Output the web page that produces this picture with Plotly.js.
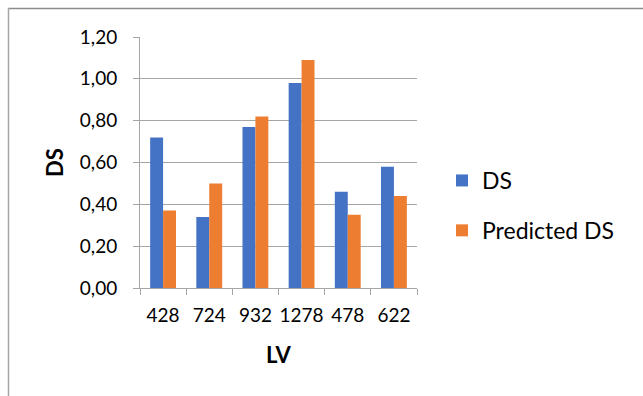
<!DOCTYPE html>
<html>
<head>
<meta charset="utf-8">
<script src="https://cdn.plot.ly/plotly-3.0.1.min.js"></script>
<style>
  html, body { margin: 0; padding: 0; background: #ffffff; }
  #chart { width: 643px; height: 396px; }
</style>
</head>
<body>
<div id="chart"></div>
<script>
// LV categories and the measured / predicted DS values
const lvLabels = ['428', '724', '932', '1278', '478', '622'];
const dsValues = [0.72, 0.34, 0.77, 0.98, 0.46, 0.58];
const predictedValues = [0.37, 0.50, 0.82, 1.09, 0.35, 0.44];
const yTicks = [0, 0.2, 0.4, 0.6, 0.8, 1.0, 1.2];

const FONT = 'Lato, "Open Sans", sans-serif';
const GRID = '#a6a6a6';

const traces = [
  {
    type: 'bar', name: 'DS', x: lvLabels, y: dsValues,
    marker: { color: '#4472c4' }, legendgroup: 'a'
  },
  {
    type: 'bar', name: 'Predicted DS', x: lvLabels, y: predictedValues,
    marker: { color: '#ed7d31' }, legendgroup: 'b'
  }
];

// plot area in pixels: left 140, right 417, top 37, bottom 288
const W = 643, H = 396, L = 140, R = 226, T = 37, B = 108;
const pw = W - L - R, ph = H - T - B;
const px = v => (v - L) / pw;
const py = v => (H - B - v) / ph;

const layout = {
  width: W, height: H,
  margin: { l: L, r: R, t: T, b: B },
  paper_bgcolor: '#ffffff', plot_bgcolor: '#ffffff',
  font: { family: FONT, color: '#000000', size: 19 },
  separators: ',.',
  barmode: 'group', bargap: 0.44, bargroupgap: 0,
  showlegend: true,
  legend: {
    x: px(442), y: py(159), xanchor: 'left', yanchor: 'top',
    font: { family: FONT, size: 23, color: '#000000' },
    traceorder: 'grouped', tracegroupgap: 17,
    itemwidth: 30, bgcolor: 'rgba(0,0,0,0)'
  },
  xaxis: {
    type: 'category',
    showgrid: false, showline: true, linecolor: GRID, linewidth: 1,
    ticks: 'outside', tickson: 'boundaries', ticklen: 6, tickcolor: GRID,
    tickangle: 0, ticklabelstandoff: 10,
    tickfont: { family: FONT, size: 19 },
    title: { text: '<b>LV</b>', font: { family: FONT, size: 22 }, standoff: 22 },
    fixedrange: true
  },
  yaxis: {
    range: [0, 1.2], tickvals: yTicks, tickformat: '.2f',
    showgrid: true, gridcolor: GRID, gridwidth: 1,
    zeroline: false, showline: true, linecolor: GRID, linewidth: 1,
    ticks: 'outside', ticklen: 6, tickcolor: GRID,
    ticklabelstandoff: 12,
    tickfont: { family: FONT, size: 19 },
    title: { text: '<b>DS</b>', font: { family: FONT, size: 22 }, standoff: 10 },
    fixedrange: true
  },
  shapes: [
    // chart frame: top and left edges
    { type: 'line', xref: 'paper', yref: 'paper',
      x0: px(8), x1: px(643), y0: py(8.5), y1: py(8.5),
      line: { color: '#8c8c8c', width: 1.5 } },
    { type: 'line', xref: 'paper', yref: 'paper',
      x0: px(8.5), x1: px(8.5), y0: py(8), y1: py(396),
      line: { color: '#a6a6a6', width: 1.5 } }
  ]
};

Plotly.newPlot('chart', traces, layout, { staticPlot: true, displayModeBar: false });
</script>
</body>
</html>
